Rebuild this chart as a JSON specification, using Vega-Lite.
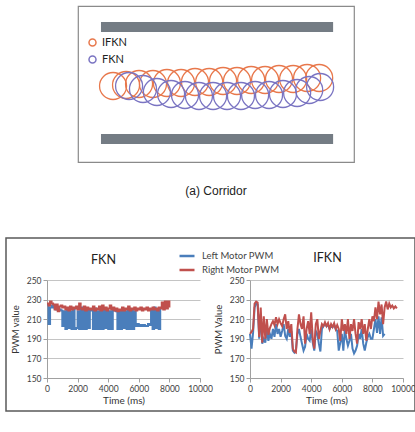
{
  "$schema": "https://vega.github.io/schema/vega-lite/v6.json",
  "padding": {"left": 3, "top": 3, "right": 0, "bottom": 0},
  "background": "white",
  "config": {"view": {"stroke": null}, "font": "Lato"},
  "datasets": {
    "circles": [
      {"x": 5.2, "y": -3, "robot": "IFKN"}, {"x": 10.8, "y": -2, "robot": "IFKN"}, {"x": 16.4, "y": -1, "robot": "IFKN"},
      {"x": 22.4, "y": -1, "robot": "IFKN"}, {"x": 28.4, "y": 0, "robot": "IFKN"}, {"x": 34.5, "y": 0, "robot": "IFKN"},
      {"x": 40.5, "y": 1, "robot": "IFKN"}, {"x": 46.6, "y": 1, "robot": "IFKN"}, {"x": 52.6, "y": 2, "robot": "IFKN"},
      {"x": 58.6, "y": 2, "robot": "IFKN"}, {"x": 64.7, "y": 3, "robot": "IFKN"}, {"x": 70.7, "y": 3, "robot": "IFKN"},
      {"x": 76.7, "y": 4, "robot": "IFKN"}, {"x": 82.8, "y": 4, "robot": "IFKN"}, {"x": 88.8, "y": 5, "robot": "IFKN"},
      {"x": 94.0, "y": 5, "robot": "IFKN"},
      {"x": 12.1, "y": -3, "robot": "FKN"}, {"x": 18.1, "y": -6, "robot": "FKN"}, {"x": 24.1, "y": -9, "robot": "FKN"},
      {"x": 30.2, "y": -11, "robot": "FKN"}, {"x": 36.2, "y": -12, "robot": "FKN"}, {"x": 42.2, "y": -13, "robot": "FKN"},
      {"x": 48.3, "y": -13, "robot": "FKN"}, {"x": 54.3, "y": -13, "robot": "FKN"}, {"x": 60.3, "y": -13, "robot": "FKN"},
      {"x": 66.4, "y": -12, "robot": "FKN"}, {"x": 72.4, "y": -12, "robot": "FKN"}, {"x": 78.4, "y": -11, "robot": "FKN"},
      {"x": 84.5, "y": -10, "robot": "FKN"}, {"x": 89.7, "y": -7, "robot": "FKN"}, {"x": 94.4, "y": -4, "robot": "FKN"}
    ],
    "walls": [
      {"x0": 0, "x1": 100, "y0": 51, "y1": 61},
      {"x0": 0, "x1": 100, "y0": -61, "y1": -51}
    ],
    "fkn": [
      {"t":0,"L":225,"R":226},{"t":100,"L":205,"R":224},{"t":200,"L":222,"R":228},{"t":300,"L":224,"R":226},
      {"t":400,"L":222,"R":225},{"t":500,"L":221,"R":220},{"t":600,"L":220,"R":225},{"t":700,"L":221,"R":218},
      {"t":800,"L":220,"R":223},{"t":900,"L":219,"R":224},{"t":1000,"L":203,"R":222},{"t":1100,"L":218,"R":223},
      {"t":1200,"L":200,"R":220},{"t":1300,"L":220,"R":222},{"t":1400,"L":201,"R":219},{"t":1500,"L":218,"R":223},
      {"t":1600,"L":200,"R":220},{"t":1700,"L":220,"R":222},{"t":1800,"L":200,"R":221},{"t":1900,"L":201,"R":223},
      {"t":2000,"L":218,"R":220},{"t":2100,"L":200,"R":226},{"t":2200,"L":222,"R":221},{"t":2300,"L":200,"R":220},
      {"t":2400,"L":219,"R":223},{"t":2500,"L":200,"R":219},{"t":2600,"L":220,"R":222},{"t":2700,"L":201,"R":220},
      {"t":2800,"L":219,"R":221},{"t":2900,"L":219,"R":220},{"t":3000,"L":200,"R":223},{"t":3100,"L":221,"R":219},
      {"t":3200,"L":200,"R":221},{"t":3300,"L":218,"R":220},{"t":3400,"L":200,"R":223},{"t":3500,"L":221,"R":219},
      {"t":3600,"L":200,"R":224},{"t":3700,"L":219,"R":220},{"t":3800,"L":201,"R":222},{"t":3900,"L":220,"R":219},
      {"t":4000,"L":200,"R":221},{"t":4100,"L":218,"R":224},{"t":4200,"L":200,"R":220},{"t":4300,"L":219,"R":222},
      {"t":4400,"L":219,"R":219},{"t":4500,"L":218,"R":221},{"t":4600,"L":200,"R":218},{"t":4700,"L":219,"R":220},
      {"t":4800,"L":200,"R":219},{"t":4900,"L":220,"R":222},{"t":5000,"L":201,"R":219},{"t":5100,"L":218,"R":221},
      {"t":5200,"L":200,"R":220},{"t":5300,"L":221,"R":223},{"t":5400,"L":200,"R":219},{"t":5500,"L":219,"R":221},
      {"t":5600,"L":200,"R":220},{"t":5700,"L":218,"R":222},{"t":5800,"L":203,"R":219},{"t":5900,"L":205,"R":221},
      {"t":6000,"L":203,"R":220},{"t":6100,"L":204,"R":222},{"t":6200,"L":203,"R":219},{"t":6300,"L":204,"R":221},
      {"t":6400,"L":203,"R":220},{"t":6500,"L":203,"R":222},{"t":6600,"L":205,"R":219},{"t":6700,"L":204,"R":221},
      {"t":6800,"L":219,"R":220},{"t":6900,"L":200,"R":222},{"t":7000,"L":222,"R":220},{"t":7100,"L":201,"R":221},
      {"t":7200,"L":220,"R":219},{"t":7300,"L":200,"R":222},{"t":7400,"L":222,"R":221},{"t":7500,"R":227},
      {"t":7600,"R":220},{"t":7700,"R":228},{"t":7800,"R":221},{"t":7900,"R":228},{"t":8000,"R":222}
    ],
    "ifkn": [
      {"t":0,"L":195,"R":195},{"t":100,"L":180,"R":197},{"t":200,"L":196,"R":200},{"t":300,"L":222,"R":226},
      {"t":400,"L":226,"R":228},{"t":500,"L":225,"R":227},{"t":600,"L":190,"R":192},{"t":700,"L":215,"R":222},
      {"t":800,"L":185,"R":186},{"t":900,"L":190,"R":213},{"t":1000,"L":186,"R":190},{"t":1100,"L":200,"R":210},
      {"t":1200,"L":188,"R":194},{"t":1300,"L":195,"R":201},{"t":1400,"L":190,"R":205},{"t":1500,"L":200,"R":208},
      {"t":1600,"L":192,"R":204},{"t":1700,"L":205,"R":212},{"t":1800,"L":195,"R":205},{"t":1900,"L":200,"R":210},
      {"t":2000,"L":192,"R":206},{"t":2100,"L":198,"R":203},{"t":2200,"L":205,"R":210},{"t":2300,"L":193,"R":215},
      {"t":2400,"L":190,"R":200},{"t":2500,"L":200,"R":208},{"t":2600,"L":192,"R":196},{"t":2700,"L":198,"R":205},
      {"t":2800,"L":178,"R":180},{"t":2900,"L":176,"R":177},{"t":3000,"L":178,"R":176},{"t":3100,"L":195,"R":200},
      {"t":3200,"L":200,"R":215},{"t":3300,"L":192,"R":205},{"t":3400,"L":185,"R":200},{"t":3500,"L":178,"R":213},
      {"t":3600,"L":182,"R":185},{"t":3700,"L":195,"R":200},{"t":3800,"L":190,"R":208},{"t":3900,"L":188,"R":195},
      {"t":4000,"L":200,"R":217},{"t":4100,"L":186,"R":190},{"t":4200,"L":178,"R":180},{"t":4300,"L":198,"R":205},
      {"t":4400,"L":195,"R":210},{"t":4500,"L":185,"R":190},{"t":4600,"L":177,"R":198},{"t":4700,"L":200,"R":205},
      {"t":4800,"L":203,"R":203},{"t":4900,"L":205,"R":207},{"t":5000,"L":203,"R":203},{"t":5100,"L":204,"R":206},
      {"t":5200,"L":200,"R":200},{"t":5300,"L":203,"R":205},{"t":5400,"L":202,"R":202},{"t":5500,"L":204,"R":206},
      {"t":5600,"L":200,"R":200},{"t":5700,"L":198,"R":204},{"t":5800,"L":178,"R":200},{"t":5900,"L":186,"R":188},
      {"t":6000,"L":195,"R":210},{"t":6100,"L":178,"R":198},{"t":6200,"L":200,"R":205},{"t":6300,"L":190,"R":195},
      {"t":6400,"L":183,"R":210},{"t":6500,"L":188,"R":190},{"t":6600,"L":195,"R":205},{"t":6700,"L":180,"R":198},
      {"t":6800,"L":175,"R":210},{"t":6900,"L":178,"R":195},{"t":7000,"L":183,"R":185},{"t":7100,"L":195,"R":207},
      {"t":7200,"L":190,"R":200},{"t":7300,"L":200,"R":210},{"t":7400,"L":185,"R":195},{"t":7500,"L":178,"R":205},
      {"t":7600,"L":186,"R":188},{"t":7700,"L":192,"R":200},{"t":7800,"L":195,"R":210},{"t":7900,"L":190,"R":200},
      {"t":8000,"L":190,"R":213},{"t":8100,"L":200,"R":208},{"t":8200,"L":210,"R":222},{"t":8300,"L":196,"R":210},
      {"t":8400,"L":213,"R":228},{"t":8500,"L":195,"R":215},{"t":8600,"L":212,"R":225},{"t":8700,"L":193,"R":205},
      {"t":8800,"L":195,"R":222},{"t":8900,"R":228},{"t":9000,"R":220},{"t":9100,"R":226},
      {"t":9200,"R":222},{"t":9300,"R":224},{"t":9400,"R":221},{"t":9500,"R":223},{"t":9600,"R":221}
    ]
  },
  "vconcat": [
    {
      "hconcat": [
        {"width": 71, "height": 1, "data": {"values": [{}]}, "mark": {"type": "point", "opacity": 0}, "encoding": {}},
        {
          "width": 276,
          "height": 156,
          "view": {"stroke": "#8a8a8a", "strokeWidth": 1.2},
          "title": {"text": "(a)  Corridor", "orient": "bottom", "offset": 24, "font": "Liberation Sans", "fontSize": 12, "fontWeight": "normal", "color": "#222"},
          "layer": [
            {
              "data": {"name": "walls"},
              "mark": {"type": "rect", "color": "#747c84"},
              "encoding": {
                "x": {"field": "x0", "type": "quantitative", "scale": {"domain": [-9.9, 109], "nice": false, "zero": false}, "axis": null},
                "x2": {"field": "x1"},
                "y": {"field": "y0", "type": "quantitative", "scale": {"domain": [-79, 77], "nice": false, "zero": false}, "axis": null},
                "y2": {"field": "y1"}
              }
            },
            {
              "data": {"name": "circles"},
              "mark": {"type": "point", "shape": "circle", "filled": false, "size": 729, "strokeWidth": 1.3, "opacity": 1},
              "encoding": {
                "x": {"field": "x", "type": "quantitative"},
                "y": {"field": "y", "type": "quantitative"},
                "color": {
                  "field": "robot", "type": "nominal",
                  "scale": {"domain": ["IFKN", "FKN"], "range": ["#e8784c", "#7a74c2"]},
                  "legend": {"orient": "none", "legendX": 9, "legendY": 31, "title": null, "symbolType": "circle", "symbolSize": 49, "symbolStrokeWidth": 1.5, "labelFontSize": 11, "labelColor": "#222", "labelOffset": 4, "rowPadding": 4, "padding": 0}
                }
              }
            }
          ]
        }
      ],
      "spacing": 0,
      "resolve": {"scale": {"color": "independent"}, "legend": {"color": "independent"}}
    },
    {
      "columns": 1,
      "align": "none",
      "spacing": -165,
      "concat": [
        {"width": 409, "height": 173, "view": {"stroke": "#5a5a5a", "strokeWidth": 1.5}, "data": {"values": [{}]}, "mark": {"type": "point", "opacity": 0}, "encoding": {}},
        {
          "spacing": 0,
          "hconcat": [
            {"width": 1, "height": 1, "data": {"values": [{}]}, "mark": {"type": "point", "opacity": 0}, "encoding": {}},
            {
              "bounds": "flush",
              "spacing": 50,
              "resolve": {"scale": {"color": "independent"}, "legend": {"color": "independent"}},
              "hconcat": [
                {
                  "width": 153,
                  "height": 98,
                  "title": {"text": "FKN", "fontSize": 12.5, "fontWeight": "normal", "color": "#222", "dx": -20, "offset": -19},
                  "data": {"name": "fkn"},
                  "transform": [{"fold": ["L", "R"], "as": ["motor", "pwm"]}, {"filter": "isValid(datum.pwm)"}],
                  "mark": {"type": "line", "strokeWidth": 2, "interpolate": "step-after"},
                  "encoding": {
                    "x": {"field": "t", "type": "quantitative", "scale": {"domain": [0, 10000], "nice": false},
                      "axis": {"values": [0, 2000, 4000, 6000, 8000, 10000], "format": "d", "title": "Time  (ms)", "grid": false, "labelFontSize": 8.5, "labelColor": "#404040", "titleFontSize": 10, "titleFontWeight": "normal", "titleColor": "#333", "domainColor": "#a0a0a0", "tickColor": "#a0a0a0", "tickSize": 4, "titlePadding": 3, "labelFlush": false}},
                    "y": {"field": "pwm", "type": "quantitative", "scale": {"domain": [150, 250], "nice": false, "zero": false},
                      "axis": {"values": [150, 170, 190, 210, 230, 250], "title": "PWM value", "gridColor": "#c4c4c4", "labelFontSize": 8.5, "labelColor": "#404040", "titleFontSize": 9.5, "titleFontWeight": "normal", "titleColor": "#333", "domainColor": "#a0a0a0", "tickColor": "#a0a0a0", "tickSize": 4, "titlePadding": 6}},
                    "color": {"field": "motor", "type": "nominal", "scale": {"domain": ["L", "R"], "range": ["#4a7ebb", "#c0504d"]},
                      "legend": {"orient": "none", "legendX": 131, "legendY": -33, "title": null, "symbolType": "stroke", "symbolSize": 225, "symbolStrokeWidth": 2.5, "labelFontSize": 9.5, "labelColor": "#444", "labelOffset": 6, "rowPadding": -3, "padding": 0,
                        "labelExpr": "datum.label == 'L' ? 'Left Motor PWM' : 'Right Motor PWM'"}}
                  }
                },
                {
                  "width": 153,
                  "height": 98,
                  "title": {"text": "IFKN", "fontSize": 12.5, "fontWeight": "normal", "color": "#222", "dx": 1, "offset": 12},
                  "data": {"name": "ifkn"},
                  "transform": [{"fold": ["L", "R"], "as": ["motor", "pwm"]}, {"filter": "isValid(datum.pwm)"}],
                  "mark": {"type": "line", "strokeWidth": 2},
                  "encoding": {
                    "x": {"field": "t", "type": "quantitative", "scale": {"domain": [0, 10000], "nice": false},
                      "axis": {"values": [0, 2000, 4000, 6000, 8000, 10000], "format": "d", "title": "Time  (ms)", "grid": false, "labelFontSize": 8.5, "labelColor": "#404040", "titleFontSize": 10, "titleFontWeight": "normal", "titleColor": "#333", "domainColor": "#a0a0a0", "tickColor": "#a0a0a0", "tickSize": 4, "titlePadding": 3, "labelFlush": false}},
                    "y": {"field": "pwm", "type": "quantitative", "scale": {"domain": [150, 250], "nice": false, "zero": false},
                      "axis": {"values": [150, 170, 190, 210, 230, 250], "title": "PWM Value", "gridColor": "#c4c4c4", "labelFontSize": 8.5, "labelColor": "#404040", "titleFontSize": 9.5, "titleFontWeight": "normal", "titleColor": "#333", "domainColor": "#a0a0a0", "tickColor": "#a0a0a0", "tickSize": 4, "titlePadding": 6}},
                    "color": {"field": "motor", "type": "nominal", "scale": {"domain": ["L", "R"], "range": ["#4a7ebb", "#c0504d"]}, "legend": null}
                  }
                }
              ]
            }
          ]
        }
      ]
    }
  ],
  "spacing": 39
}
